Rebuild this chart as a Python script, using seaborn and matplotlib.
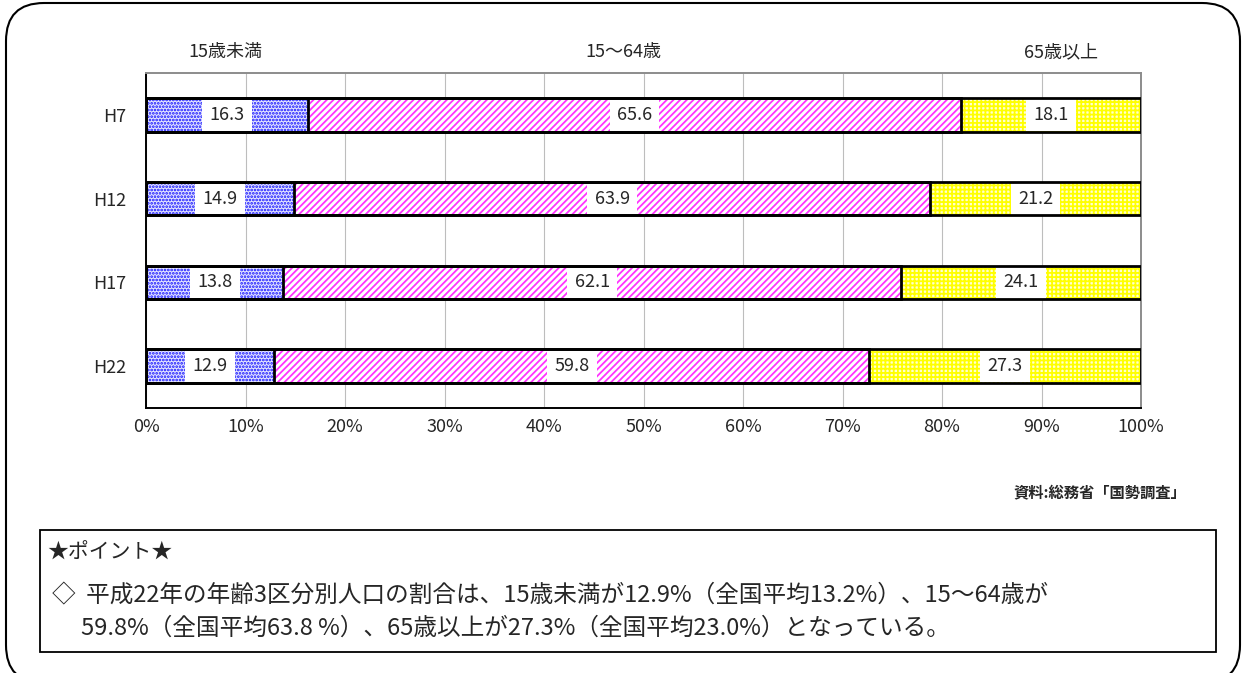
import matplotlib
matplotlib.use("Agg")
import matplotlib.pyplot as plt
import matplotlib.patches as mpatches
from matplotlib.transforms import IdentityTransform
import pandas as pd
import seaborn as sns

# data: 年齢3区分別人口の割合 (%)
years = ["H7", "H12", "H17", "H22"]
under15 = [16.3, 14.9, 13.8, 12.9]
age15_64 = [65.6, 63.9, 62.1, 59.8]
over65 = [18.1, 21.2, 24.1, 27.3]
groups = ["15歳未満", "15〜64歳", "65歳以上"]
xticks = [0, 10, 20, 30, 40, 50, 60, 70, 80, 90, 100]

source = "資料:総務省「国勢調査」"
point_title = "★ポイント★"
point_lines = [
    "◇  平成22年の年齢3区分別人口の割合は、15歳未満が12.9%（全国平均13.2%）、15～64歳が",
    "59.8%（全国平均63.8 %）、65歳以上が27.3%（全国平均23.0%）となっている。",
]

sns.set_style("white")
plt.rcParams['font.family'] = ['Noto Sans CJK JP', 'DejaVu Sans']
plt.rcParams['hatch.linewidth'] = 1.3

W, H = 1246, 673
fig = plt.figure(figsize=(W / 100, H / 100), dpi=100)
ax = fig.add_axes([146 / W, 1 - 408 / H, 995 / W, 335 / H])

# stacked bars drawn as cumulative totals, widest first
cum1 = under15
cum2 = [a + b for a, b in zip(under15, age15_64)]
cum3 = [a + b + c for a, b, c in zip(under15, age15_64, over65)]
layers = [
    (cum3, "#ffffd0", "#ffff00", "++++"),
    (cum2, "white", "#ff33ff", "/////"),
    (cum1, "#e4e4ff", "#1010ff", "....."),
]

filled = []
for cum, face, hcol, hatch in layers:
    df = pd.DataFrame({"year": years, "value": cum})
    n0 = len(ax.patches)
    sns.barplot(data=df, x="value", y="year", orient="h", width=0.4,
                color=face, ax=ax, zorder=2)
    for p in ax.patches[n0:]:
        p.set_facecolor(face)
        p.set_edgecolor(hcol)
        p.set_hatch(hatch)
        p.set_linewidth(0)
        filled.append(p)

# black outlines around every segment
for p in filled:
    ax.add_patch(mpatches.Rectangle(p.get_xy(), p.get_width(), p.get_height(),
                                    fill=False, edgecolor="black", lw=2, zorder=5))

# value labels in white boxes
for i, y in enumerate(years):
    starts = [0, under15[i], under15[i] + age15_64[i]]
    vals = [under15[i], age15_64[i], over65[i]]
    for s, v in zip(starts, vals):
        ax.text(s + v / 2, i, f"{v:.1f}", ha="center", va="center", fontsize=13,
                zorder=4,
                bbox=dict(boxstyle="square,pad=0.4", facecolor="white", edgecolor="none"))

# group names above the plot
for gx, g in zip([8, 48, 92], groups):
    ax.text(gx, -0.75, g, ha="center", va="center", fontsize=13)

ax.set_xlim(0, 100)
ax.set_ylim(3.5, -0.5)
ax.set_xticks(xticks)
ax.set_xticklabels([f"{t}%" for t in xticks], fontsize=13)
ax.set_yticks(range(len(years)))
ax.set_yticklabels(years, fontsize=13)
ax.set_yticks([0.5, 1.5, 2.5], minor=True)
ax.tick_params(axis="y", which="major", length=0, pad=14)
ax.tick_params(axis="y", which="minor", length=4, direction="in", color="#888888")
ax.tick_params(axis="x", length=0, pad=7)
ax.set_xlabel("")
ax.set_ylabel("")
ax.grid(axis="x", color="#bdbdbd", lw=0.8, zorder=0)
ax.set_axisbelow(True)
for side in ["left", "bottom"]:
    ax.spines[side].set_color("black")
    ax.spines[side].set_linewidth(1.4)
for side in ["top", "right"]:
    ax.spines[side].set_color("#8c8c8c")
    ax.spines[side].set_linewidth(1.4)

fig.text(1186 / W, 1 - 492 / H, source, ha="right", va="center",
         fontsize=11, fontweight="bold")

# outer rounded frame and point box (pixel coords)
fig.patches.append(mpatches.FancyBboxPatch(
    (6, -10), 1234, 680, boxstyle="round,pad=0,rounding_size=38",
    transform=IdentityTransform(), fill=False, edgecolor="black", lw=1.5))
fig.patches.append(mpatches.Rectangle(
    (40, H - 652), 1176, 122, transform=IdentityTransform(),
    fill=False, edgecolor="black", lw=1.3))

fig.text(47 / W, 1 - 553 / H, point_title, ha="left", va="center", fontsize=15)
fig.text(52 / W, 1 - 596 / H, point_lines[0], ha="left", va="center", fontsize=17)
fig.text(81 / W, 1 - 628 / H, point_lines[1], ha="left", va="center", fontsize=17)

fig.savefig("out.png", dpi=100)
